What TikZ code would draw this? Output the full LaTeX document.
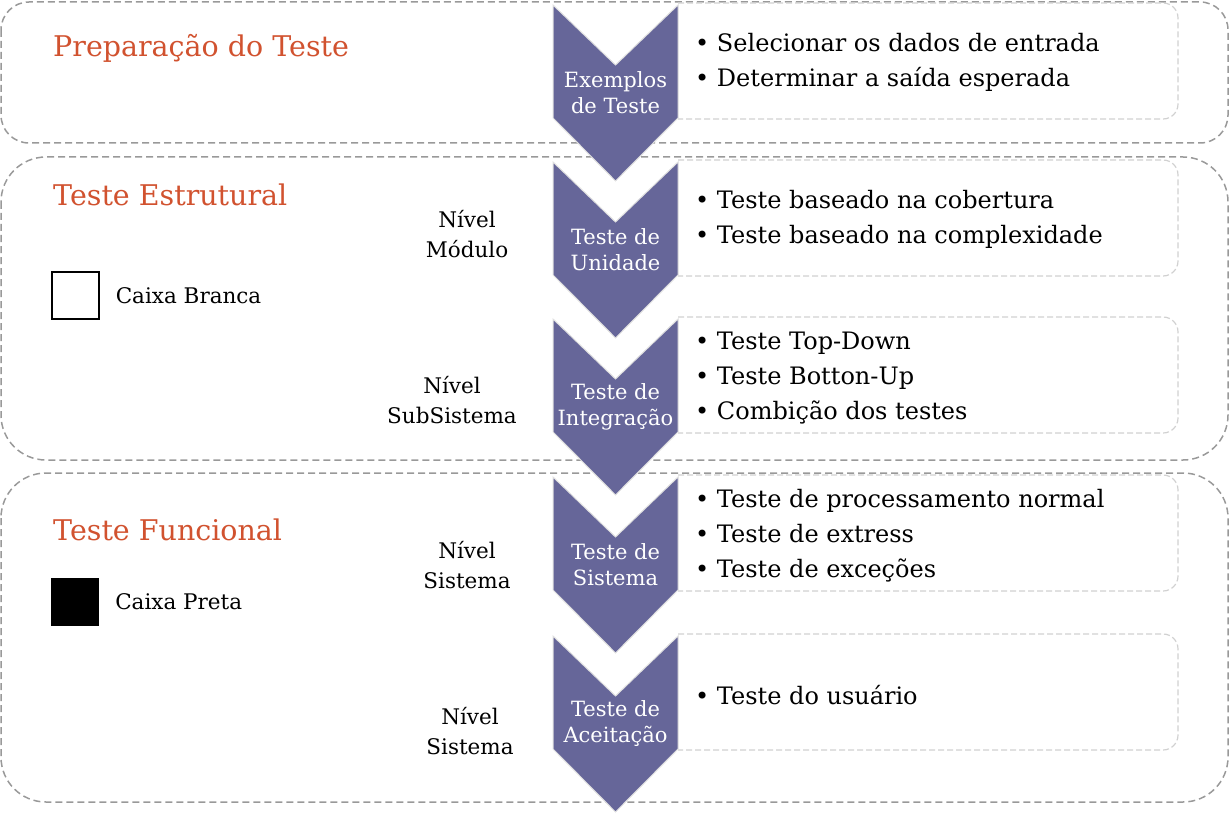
\documentclass[tikz,border=0pt]{standalone}
\usepackage{fontspec}
\setmainfont{DejaVu Serif}
\usetikzlibrary{positioning}
\definecolor{chevfill}{RGB}{102,102,153}
\definecolor{titlered}{RGB}{209,82,47}
\tikzset{
  phase/.style={draw=black!40, dash pattern=on 7pt off 4pt, line width=1.5pt},
  infobox/.style={draw=black!18, fill=white, dash pattern=on 6pt off 3pt, line width=1.2pt, rounded corners=15pt},
  chev/.style={fill=chevfill, draw=black!12, line width=1pt},
  chevtext/.style={text=white, align=center, inner sep=0, font=\fontsize{21}{26}\selectfont},
  item/.style={anchor=west, align=left, inner sep=0, font=\fontsize{24}{35}\selectfont},
  level/.style={align=center, inner sep=0, font=\fontsize{21.5}{30}\selectfont},
  heading/.style={anchor=west, inner sep=0, text=titlered, font=\fontsize{28.5}{34}\selectfont},
  legend/.style={inner sep=0, font=\fontsize{21.5}{24}\selectfont}
}
\begin{document}
\begin{tikzpicture}[x=1pt,y=-1pt]
\useasboundingbox (0,0) rectangle (1230,818);
% phases
\draw[phase, rounded corners=28pt] (1,2) rectangle (1228,143);
\draw[phase, rounded corners=45pt] (1,157) rectangle (1228,460);
\draw[phase, rounded corners=45pt] (1,473) rectangle (1228,802);
% boxes behind the chevrons
\foreach \t in {5,162,319,477,636}
  \draw[infobox] (678,\t-2) -- (1178,\t-2) -- (1178,\t+114) -- (678,\t+114);
% chevrons
\foreach \t/\lab [count=\i] in {5/{Exemplos\\de Teste},162/{Teste de\\Unidade},319/{Teste de\\Integração},477/{Teste de\\Sistema},636/{Teste de\\Aceitação}}{
  \draw[chev] (553,\t) -- (615.5,\t+60) -- (678,\t) -- (678,\t+113) -- (615.5,\t+176) -- (553,\t+113) -- cycle;
  \node[chevtext] (c\i) at (615.5,\t+88) {\lab};
}
% headings
\node[heading] (prep) at (53,48) {Preparação do Teste};
\node[heading] (estr) at (53,195) {Teste Estrutural};
\node[heading] (func) at (53,530) {Teste Funcional};
\node[draw, line width=1.2pt, minimum size=47pt, inner sep=0] (branca) at (75.5,295.5) {};
\node[legend, right=16pt of branca] (brancatxt) {Caixa Branca};
\node[draw, fill=black, line width=1.2pt, minimum size=47pt, inner sep=0] (preta) at (75,602) {};
\node[legend, right=16pt of preta] (pretatxt) {Caixa Preta};
% levels
\node[level] (modulo) at (467,234.5) {Nível\\Módulo};
\node[level] (subsis) at (452,400) {Nível\\SubSistema};
\node[level] (sis) at (467,565) {Nível\\Sistema};
\node[level] (aceit) at (470,731.5) {Nível\\Sistema};
% items
\node[item] (ex) at (695,62) {\textbullet\ Selecionar os dados de entrada\\\textbullet\ Determinar a saída esperada};
\node[item] (un) at (695,219.5) {\textbullet\ Teste baseado na cobertura\\\textbullet\ Teste baseado na complexidade};
\node[item] (in) at (695,378.5) {\textbullet\ Teste Top-Down\\\textbullet\ Teste Botton-Up\\\textbullet\ Combição dos testes};
\node[item] (si) at (695,536) {\textbullet\ Teste de processamento normal\\\textbullet\ Teste de extress\\\textbullet\ Teste de exceções};
\node[item] (ac) at (695,695) {\textbullet\ Teste do usuário};
\end{tikzpicture}
\end{document}
